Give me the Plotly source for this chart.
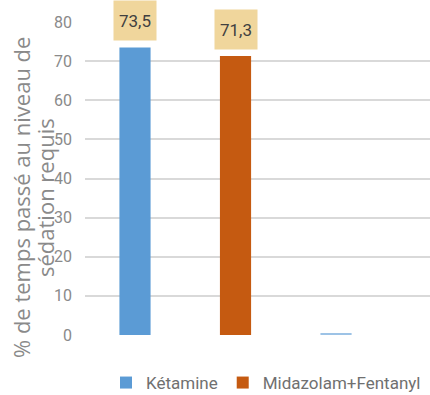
import plotly.graph_objects as go

categories = ["Groupe 1", "Groupe 2", "Groupe 3"]
ketamine = [73.5, None, 0.3]
midazolam = [None, 71.3, None]
labels = ["73,5", "71,3"]
label_vals = [73.5, 71.3]
series_names = ["Kétamine", "Midazolam+Fentanyl"]
y_ticks = [0, 10, 20, 30, 40, 50, 60, 70, 80]
y_title_lines = ["% de temps passé au niveau de", "sédation requis"]

W, H = 430, 395
L, R, T, B = 85, 0, 22, 60
FONT = "Roboto, Liberation Sans, sans-serif"

fig = go.Figure()
fig.add_trace(go.Bar(x=categories[:1], y=ketamine[:1], name=series_names[0],
                     marker=dict(color="#5b9bd5", line=dict(width=0)), width=0.31))
fig.add_trace(go.Bar(x=categories[1:2], y=midazolam[1:2], name=series_names[1],
                     marker=dict(color="#c55a11", line=dict(width=0)), width=0.31))
fig.add_trace(go.Bar(x=categories[2:], y=ketamine[2:], name=series_names[0],
                     showlegend=False,
                     marker=dict(color="#9dc3e6", line=dict(width=0)), width=0.31))

for cat, txt, v in zip(categories[:2], labels, label_vals):
    fig.add_annotation(x=cat, y=v, xref="x", yref="y", text=txt, showarrow=False,
                       yanchor="bottom", yshift=6, width=38, height=35, borderpad=2,
                       bgcolor="#f0d69c", font=dict(family=FONT, size=17, color="#404040"))

for line, px in zip(y_title_lines, [21, 45]):
    fig.add_annotation(text=line, textangle=-90, xref="paper", yref="paper",
                       x=(px - L) / (W - L - R), y=(335 - 198) / (H - T - B),
                       xanchor="center", yanchor="middle", showarrow=False,
                       font=dict(family="Open Sans, DejaVu Sans, sans-serif", size=22,
                                 color="#8a8a8a"))

fig.update_layout(
    width=W, height=H, margin=dict(l=L, r=R, t=T, b=B, autoexpand=False),
    paper_bgcolor="white", plot_bgcolor="white",
    barmode="overlay", showlegend=True,
    font=dict(family=FONT, color="#595959"),
    legend=dict(orientation="h", xref="container", x=266 / W, xanchor="center",
                yref="container", y=1 - 383 / H, yanchor="middle",
                font=dict(family=FONT, size=17, color="#707070"),
                traceorder="normal", itemwidth=30),
    xaxis=dict(type="category", categoryorder="array", categoryarray=categories,
               range=[-0.4975, 2.935], showticklabels=False, showgrid=False,
               zeroline=False, showline=False, ticks=""),
    yaxis=dict(range=[0, 80], tickvals=y_ticks, showgrid=True, gridcolor="#d9d9d9",
               gridwidth=1.5, zeroline=False, showline=False, ticks="",
               ticklabelstandoff=12,
               tickfont=dict(family=FONT, size=16, color="#8a8a8a")),
)

fig.write_html("out.html")
